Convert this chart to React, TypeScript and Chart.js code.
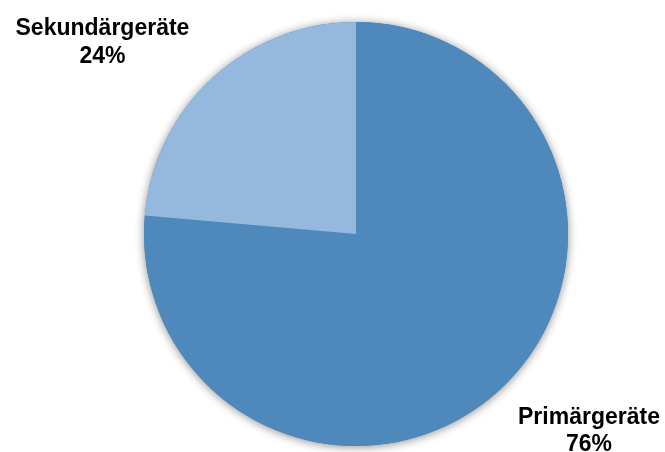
import React, { useEffect, useRef } from "react";
import { Chart, registerables } from "chart.js";

Chart.register(...registerables);

const categories = ["Primärgeräte", "Sekundärgeräte"];
const values = [76.4, 23.6];
const percentLabels = ["76%", "24%"];
const colors = ["#4F88BB", "#95B8DF"];

const shadowPlugin = {
  id: "pieShadow",
  beforeDatasetsDraw(chart: any) {
    const meta = chart.getDatasetMeta(0);
    const arc = meta.data[0];
    if (!arc) return;
    const { x, y, outerRadius } = arc.getProps(["x", "y", "outerRadius"], true);
    const ctx = chart.ctx;
    ctx.save();
    ctx.shadowColor = "rgba(0,0,0,0.45)";
    ctx.shadowBlur = 10;
    ctx.shadowOffsetX = 0;
    ctx.shadowOffsetY = 1;
    ctx.fillStyle = "#4F88BB";
    ctx.beginPath();
    ctx.arc(x, y, outerRadius, 0, Math.PI * 2);
    ctx.fill();
    ctx.restore();
  },
};

const labelPlugin = {
  id: "outerLabels",
  afterDatasetsDraw(chart: any) {
    const meta = chart.getDatasetMeta(0);
    const arc = meta.data[0];
    if (!arc) return;
    const { x, y, outerRadius: r } = arc.getProps(["x", "y", "outerRadius"], true);
    const ctx = chart.ctx;
    ctx.save();
    ctx.fillStyle = "#000";
    ctx.font = "bold 23px 'Liberation Sans', Arial, sans-serif";
    ctx.textAlign = "center";
    ctx.textBaseline = "alphabetic";
    // Primärgeräte (bottom right)
    const px = x + r * 1.099;
    const py = y + r * 0.896;
    ctx.fillText(categories[0], px, py);
    ctx.fillText(percentLabels[0], px, py + 27);
    // Sekundärgeräte (top left)
    const sx = x - r * 1.196;
    const sy = y - r * 0.939;
    ctx.fillText(categories[1], sx, sy);
    ctx.fillText(percentLabels[1], sx, sy + 28);
    ctx.restore();
  },
};

export default function App() {
  const ref = useRef<HTMLCanvasElement>(null);
  useEffect(() => {
    document.body.style.margin = "0";
    const chart = new Chart(ref.current!, {
      type: "pie",
      data: {
        labels: categories,
        datasets: [
          {
            data: values,
            backgroundColor: colors,
            borderWidth: 0,
          },
        ],
      },
      options: {
        animation: false,
        responsive: false,
        layout: { padding: { left: 144, right: 97, top: 22, bottom: 6 } },
        plugins: {
          legend: { display: false },
          tooltip: { enabled: false },
        },
      },
      plugins: [shadowPlugin, labelPlugin],
    });
    return () => chart.destroy();
  }, []);
  return (
    <div style={{ position: "fixed", left: 0, top: 0, width: 665, height: 452, background: "#fff" }}>
      <canvas ref={ref} width={665} height={452} style={{ width: 665, height: 452 }} />
    </div>
  );
}
